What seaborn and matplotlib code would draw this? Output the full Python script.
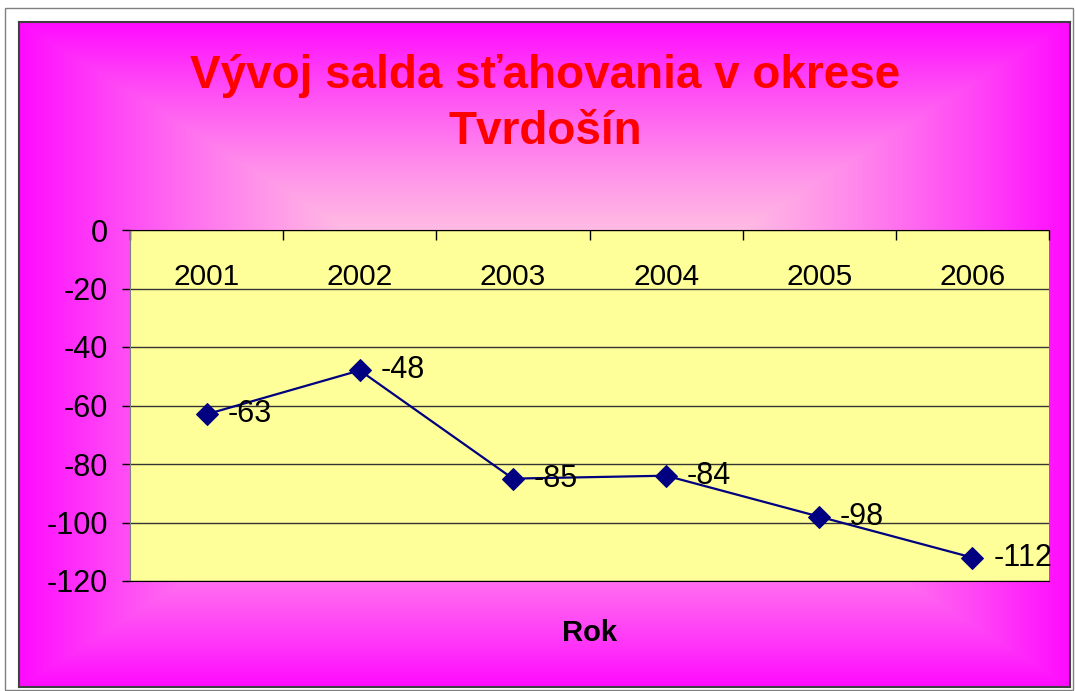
import matplotlib
matplotlib.use("Agg")
import matplotlib.pyplot as plt
from matplotlib.patches import Rectangle
from matplotlib.ticker import FixedLocator
import seaborn as sns
import numpy as np
import pandas as pd

# data
years = ["2001", "2002", "2003", "2004", "2005", "2006"]
saldo = [-63, -48, -85, -84, -98, -112]
y_ticks = [0, -20, -40, -60, -80, -100, -120]

TITLE = "Vývoj salda sťahovania v okrese\nTvrdošín"
XLABEL = "Rok"

plt.rcParams["font.family"] = ["Liberation Sans", "DejaVu Sans"]
plt.rcParams["axes.unicode_minus"] = False

W, H = 1075, 691
fig = plt.figure(figsize=(W / 100, H / 100), dpi=100)
fig.patch.set_facecolor("white")

# outer thin frame
fig.patches.append(Rectangle((5 / W, 1 - 690 / H), (1073 - 5) / W, (690 - 8) / H,
                             transform=fig.transFigure, fill=False,
                             edgecolor="#808080", lw=1))

# chart area with rectangular "from centre" gradient
cx0, cy0, cx1, cy1 = 19, 22, 1070, 687
bg = fig.add_axes([cx0 / W, 1 - cy1 / H, (cx1 - cx0) / W, (cy1 - cy0) / H])
xx, yy = np.meshgrid(np.linspace(-1, 1, cx1 - cx0), np.linspace(-1, 1, cy1 - cy0))
t = np.maximum(np.abs(xx), np.abs(yy)) ** 1.5
center = np.array([1.0, 0.94, 0.86])
edge = np.array([1.0, 0.04, 1.0])
img = center * (1 - t[..., None]) + edge * t[..., None]
bg.imshow(img, aspect="auto", extent=[0, 1, 0, 1], interpolation="bilinear")
bg.set_xticks([])
bg.set_yticks([])
for s in bg.spines.values():
    s.set_color("#404040")
    s.set_linewidth(1.5)

# plot area
px0, py0, px1, py1 = 130, 230, 1049, 581
ax = fig.add_axes([px0 / W, 1 - py1 / H, (px1 - px0) / W, (py1 - py0) / H])
ax.set_facecolor("#FFFF99")

df = pd.DataFrame({"pos": range(len(years)), "saldo": saldo})
sns.lineplot(data=df, x="pos", y="saldo", ax=ax, color="#000080", lw=1.6,
             marker="D", markersize=11, markeredgecolor="#000080")

for i, v in enumerate(saldo):
    ax.annotate(str(v), (i, v), xytext=(15, 0), textcoords="offset points",
                ha="left", va="center", fontsize=22, color="black")

ax.set_xlim(-0.5, len(years) - 0.5)
ax.set_ylim(-120, 0)
ax.set_yticks(y_ticks)
ax.tick_params(axis="y", direction="out", length=6, width=1, pad=10,
               labelsize=22, color="black")
ax.grid(axis="y", color="#333333", lw=1)
ax.set_axisbelow(True)

# categories along the top (zero) line, labels inside the plot
ax.xaxis.set_ticks_position("top")
ax.set_xticks(range(len(years)))
ax.set_xticklabels(years)
ax.tick_params(axis="x", which="major", length=0, pad=-44, labelsize=21.5,
               top=True, labeltop=True, bottom=False, labelbottom=False)
ax.xaxis.set_minor_locator(FixedLocator(np.arange(-0.5, len(years), 1.0)))
ax.tick_params(axis="x", which="minor", direction="in", length=7, width=1,
               top=True, bottom=False, color="black")
ax.set_xlabel("")
ax.set_ylabel("")

ax.spines["top"].set_color("black")
ax.spines["bottom"].set_color("black")
ax.spines["left"].set_color("#808080")
ax.spines["right"].set_visible(False)

fig.text(545 / W, 1 - 104 / H, TITLE, ha="center", va="center",
         fontsize=33, fontweight="bold", color="#FF0000", linespacing=1.33)
fig.text(589 / W, 1 - 633 / H, XLABEL, ha="center", va="center",
         fontsize=21, fontweight="bold", color="black")

fig.savefig("out.png", dpi=100)
